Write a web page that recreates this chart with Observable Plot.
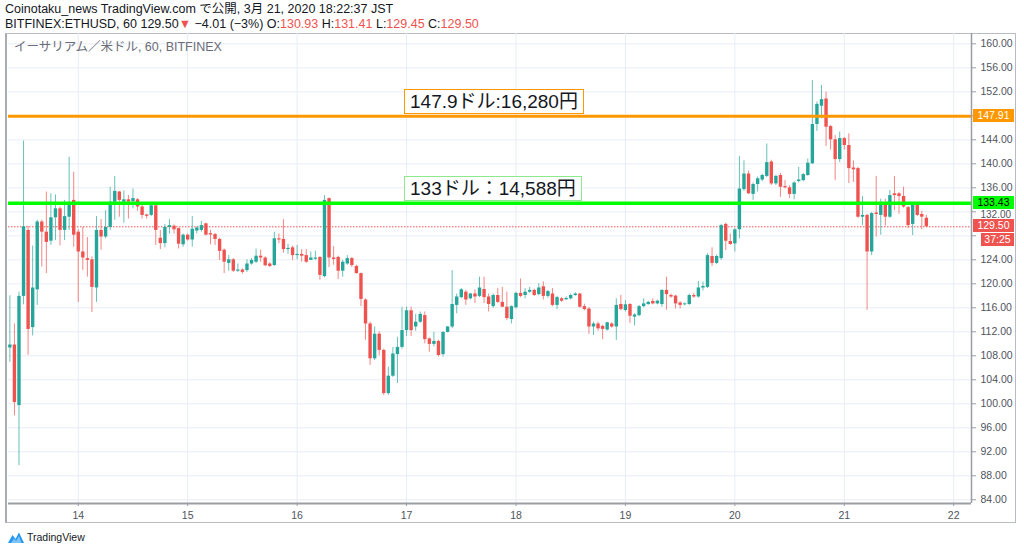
<!DOCTYPE html>
<html><head><meta charset="utf-8">
<script src="https://cdn.jsdelivr.net/npm/d3@7"></script>
<script src="https://cdn.jsdelivr.net/npm/@observablehq/plot@0.6"></script>
<style>
body{margin:0;background:#fff;width:1024px;height:552px;overflow:hidden;position:relative;font-family:"Liberation Sans","Noto Sans CJK JP",sans-serif;color:#131722}
.abs{position:absolute;white-space:nowrap}
#h1{left:5px;top:3px;font-size:12.5px;line-height:13px;height:13px}
#h2{left:5px;top:18px;font-size:12.5px;line-height:13px;height:13px}
.r{color:#ef5350}
#legend{left:14px;top:40px;font-size:12.5px;line-height:14px;color:#6a6d78}
#frame{position:absolute;left:5px;top:33px;width:1011px;height:490px;border:1px solid #b8bbc2;border-left:2px solid #a9acb3;box-sizing:border-box}
#chart{position:absolute;left:5px;top:33px}
.badge{position:absolute;height:13px;line-height:13px;font-size:10.5px;text-align:center;font-family:"Liberation Sans",sans-serif}
.note{position:absolute;height:25px;line-height:24px;font-size:19px;padding:0 5px;background:#fff;box-sizing:border-box;font-family:"Liberation Sans","Noto Sans CJK JP",sans-serif;color:#131722}
#tv{left:8px;top:531px;font-size:10.5px;color:#131722;display:flex;align-items:center;gap:3px}
</style></head>
<body>
<div class="abs" id="h1">Coinotaku_news TradingView.com で公開, 3月 21, 2020 18:22:37 JST</div>
<div class="abs" id="h2">BITFINEX:ETHUSD, 60 129.50<span class="r">▼</span> −4.01 (−3%) O:<span class="r">130.93</span> H:<span class="r">131.41</span> L:<span class="r">129.45</span> C:<span class="r">129.50</span></div>
<div id="frame"></div>
<div id="chart"></div>
<div class="abs" id="legend">イーサリアム／米ドル, 60, BITFINEX</div>
<div class="abs" id="tv"><svg width="16" height="11" viewBox="0 0 16 11"><path d="M0 11 L4.5 3 L7.5 7 L11 0.5 L16 11 Z" fill="#2196f3"/><path d="M3 11 L6 6.5 L8 9 L11 4 L13.5 11 Z" fill="#7ec2f7"/></svg><span>TradingView</span></div>
<script>
// Hourly candles (index 0 = first hour shown; day "14" starts at hour 15)
const opens = [
109.3,109.8,99.7,117.9,128.9,112.7,119.0,130.3,128.6,127.1,
131.0,132.5,128.9,131.1,133.9,128.6,125.3,124.2,124.0,119.3,
128.9,127.8,129.4,133.6,135.3,133.6,134.0,133.7,134.0,132.8,
131.4,131.4,133.0,127.6,126.7,129.4,129.6,129.2,126.5,128.1,
127.3,128.8,128.9,130.0,128.3,128.2,127.4,125.6,123.4,124.0,
122.1,122.3,122.2,123.3,123.6,124.6,124.3,123.3,123.05,127.5,
127.4,125.7,126.0,124.7,124.9,124.7,123.9,124.1,124.4,121.2,
134.2,124.3,124.4,122.1,123.3,124.2,122.9,121.7,117.3,113.3,
107.5,111.6,108.9,101.7,104.6,108.2,109.4,112.2,115.5,112.8,
113.6,114.7,110.8,109.9,110.4,108.2,111.9,112.8,116.4,117.7,
118.6,117.5,118.3,117.9,119.05,117.8,116.2,118.05,116.9,116.1,
114.05,116.0,118.4,118.05,118.6,118.9,118.2,119.5,117.9,118.3,
116.4,117.5,117.4,117.5,118.05,118.3,116.2,115.8,112.8,113.3,
112.9,112.3,113.3,112.8,116.55,115.55,116.55,114.45,114.7,116.2,
116.55,117.05,116.65,116.55,118.9,118.05,117.95,116.8,116.5,116.55,
118.05,117.8,119.3,119.4,124.55,123.4,124.2,129.9,127.05,126.65,
129.0,135.7,138.3,134.9,136.55,137.3,137.9,140.3,136.65,138.05,
136.2,136.0,134.9,137.05,137.2,138.05,140.0,146.55,149.6,150.8,
146.2,144.0,140.7,144.2,143.05,139.3,139.2,131.1,131.4,125.3,
131.8,131.4,133.45,131.1,135.0,135.0,134.55,132.7,129.9,133.3,
131.55,130.93];
const highs = [
118.0,113.3,118.6,143.8,129.6,126.3,130.6,130.6,135.3,135.0,
134.8,132.8,133.9,141.1,138.6,129.0,129.4,127.7,124.5,131.2,
130.7,132.2,136.1,137.9,135.4,135.5,134.7,135.8,134.2,133.1,
131.6,133.3,133.3,128.9,129.9,130.7,129.8,129.3,128.3,128.3,
131.2,129.5,130.4,130.1,128.9,128.4,127.6,125.8,124.7,124.2,
123.3,122.5,124.0,124.2,125.8,125.6,124.5,123.5,128.6,128.3,
130.7,126.6,126.3,126.4,125.7,125.7,125.3,125.4,124.5,134.7,
134.3,126.2,124.6,123.9,124.7,124.4,123.1,121.8,117.5,113.6,
112.8,112.0,109.1,106.1,109.4,111.1,116.1,116.1,116.1,114.9,
115.3,115.3,111.0,111.9,110.6,112.0,112.9,122.2,118.3,119.2,
118.9,118.4,119.0,121.1,121.1,118.3,118.3,119.2,119.4,118.6,
116.3,118.6,120.8,119.2,119.4,119.1,120.0,120.3,118.9,119.2,
117.9,117.7,117.8,118.3,118.5,118.4,116.6,116.0,113.6,113.6,
113.1,113.6,113.5,117.5,118.05,117.2,116.7,115.0,116.4,117.5,
117.1,117.5,117.3,119.0,121.1,118.3,118.1,117.0,116.8,118.3,
118.4,120.4,120.3,125.0,126.0,124.8,129.9,130.1,128.3,129.2,
141.2,140.5,138.8,136.8,137.8,138.3,143.3,140.6,138.1,138.4,
137.2,136.3,137.0,139.4,138.4,140.8,153.9,150.3,153.05,151.95,
146.4,144.7,145.3,144.4,145.0,140.5,139.4,134.55,131.6,131.9,
137.9,134.1,134.1,135.55,137.9,135.2,136.1,132.9,133.5,133.6,
132.1,131.41];
const lows = [
106.9,98.0,89.7,116.5,108.1,111.3,116.4,122.8,121.7,126.4,
127.2,126.3,127.2,128.9,126.1,116.9,122.2,121.1,115.2,116.9,
125.6,127.5,128.9,130.6,131.1,130.1,130.8,132.5,132.1,130.8,
130.8,131.2,126.4,125.7,126.0,128.3,128.3,125.8,126.1,127.1,
126.1,128.3,128.6,128.0,126.5,126.4,123.9,121.7,122.1,121.9,
121.9,121.6,121.9,123.1,123.4,123.6,122.9,122.7,122.9,126.7,
125.1,124.9,123.9,124.0,123.6,123.4,123.9,123.9,120.6,121.0,
122.7,123.1,120.7,121.1,123.1,122.7,121.6,116.2,110.6,106.4,
107.2,108.0,101.4,101.4,104.4,103.4,109.1,111.2,111.2,112.1,
113.4,110.0,108.6,109.5,107.8,107.8,111.8,112.5,115.0,117.5,
116.4,117.3,116.7,117.7,116.7,115.3,115.9,116.7,116.0,113.9,
113.3,115.8,117.7,117.5,118.4,117.9,118.0,117.3,117.6,116.2,
115.7,116.9,117.2,117.3,117.9,115.9,115.5,111.6,111.4,112.1,
110.7,112.1,112.6,110.55,115.5,115.3,113.4,113.0,114.5,116.0,
116.4,116.5,116.5,116.1,115.6,117.6,115.8,115.8,116.3,116.4,
117.6,117.6,118.8,119.2,122.9,123.2,123.9,125.55,126.4,125.3,
127.5,135.4,134.9,133.9,135.3,137.0,137.7,136.4,136.4,134.4,
135.8,134.2,134.0,136.8,137.0,137.9,139.9,145.4,147.5,142.9,
142.3,137.2,140.2,142.3,136.7,136.9,130.9,129.7,115.6,124.7,
127.8,128.1,129.6,130.9,132.2,131.6,132.6,129.2,128.05,131.2,
129.0,129.45];
const closes = [
109.8,100.2,117.9,129.5,112.4,119.3,130.3,128.6,126.9,131.0,
132.5,128.9,131.2,133.3,128.1,125.3,124.3,123.9,119.4,128.9,
127.8,129.4,133.6,135.4,133.9,134.0,133.6,134.2,132.8,131.4,
131.3,133.0,128.9,126.7,129.4,129.7,129.0,126.6,128.1,127.3,
129.1,129.3,129.7,128.1,128.2,127.4,125.4,123.6,124.0,122.1,
122.3,121.9,123.3,123.9,124.6,124.3,123.0,122.9,127.5,127.3,
125.7,125.9,124.7,124.9,124.6,123.6,124.3,124.3,121.4,133.9,
124.3,124.05,122.1,123.6,124.2,123.05,121.7,117.4,113.3,107.5,
111.6,108.9,101.7,104.6,108.3,109.4,112.2,115.5,112.2,113.6,
114.9,110.7,109.9,110.4,108.05,111.9,112.8,116.55,117.8,119.0,
117.3,118.3,117.8,119.3,117.7,116.55,118.05,116.9,116.1,114.2,
116.2,118.4,117.9,118.6,118.9,118.05,119.3,117.9,118.7,116.4,
117.7,117.1,117.5,118.05,118.3,116.1,115.7,112.8,113.3,112.5,
112.4,113.5,112.8,116.4,115.7,116.5,114.6,114.8,116.2,116.65,
116.9,116.65,117.1,118.9,118.2,117.8,116.65,116.4,116.65,118.05,
117.8,119.3,119.55,124.7,123.4,124.55,129.7,127.1,126.55,129.0,
135.8,138.3,135.0,136.55,137.5,138.05,140.2,136.65,137.9,136.1,
136.0,134.9,136.8,137.3,138.2,140.1,146.55,149.9,150.7,146.1,
144.0,140.7,144.2,143.05,139.2,139.0,131.1,131.4,125.3,131.7,
131.55,133.45,131.1,134.7,134.7,134.55,132.8,129.7,133.3,131.4,
131.1,129.5];

const dayLabels = ["14","15","16","17","18","19","20","21","22"];
const dayTickHours = [15,39,63,87,111,135,159,183,207];
const priceTicks = d3.range(84, 161, 4);
const resistance = 147.91, support = 133.43, lastClose = 129.50;
const countdown = "37:25";
const notes = [
  {text:"147.9ドル:16,280円", price:resistance, border:"#ff9800"},
  {text:"133ドル：14,588円", price:support, border:"#8bea8b"}
];
const noteHour = 86.55;
const xDomain = [-0.3, 210.9], yDomain = [83.38, 161.72];

const UP = "#26a69a", DOWN = "#ef5350";
const candles = opens.map((o, i) => ({t:i, o, h:highs[i], l:lows[i], c:closes[i], up: closes[i] >= opens[i]}));
const minBody = 0.12;
const bodyLo = d => Math.min(d.o, d.c) - (Math.abs(d.o - d.c) < minBody ? minBody/2 : 0);
const bodyHi = d => Math.max(d.o, d.c) + (Math.abs(d.o - d.c) < minBody ? minBody/2 : 0);

// price-axis labels that sit under a price badge are hidden, as in the reference;
// a label just below a badge is nudged down a little so it stays readable
const badgeYs = [resistance, support, lastClose, lastClose - 2.5];
const labelTicks = priceTicks.filter(t => badgeYs.every(b => Math.abs(b - t) * 6 >= 8));
const nearTicks = labelTicks.filter(t => badgeYs.some(b => Math.abs(b - t) * 6 < 12));
const freeTicks = labelTicks.filter(t => !nearTicks.includes(t));

const plot = Plot.plot({
  width: 1011, height: 490,
  marginLeft: 3, marginRight: 45, marginTop: 0, marginBottom: 20,
  style: {fontFamily: "Liberation Sans, sans-serif", fontSize: "10.5px", color: "#50535e", background: "transparent", overflow: "visible"},
  x: {domain: xDomain, axis: null},
  y: {domain: yDomain, axis: null},
  marks: [
    Plot.gridX(dayTickHours, {stroke: "#e8edf4", strokeOpacity: 1}),
    Plot.gridY(priceTicks, {stroke: "#e8edf4", strokeOpacity: 1}),
    Plot.ruleY([lastClose], {stroke: DOWN, strokeWidth: 1, strokeDasharray: "1.5,1.5"}),
    Plot.ruleX(candles, {x: "t", y1: "l", y2: "h", stroke: d => d.up ? UP : DOWN, strokeOpacity: 0.7, strokeWidth: 1}),
    Plot.ruleX(candles, {x: "t", y1: bodyLo, y2: bodyHi, stroke: d => d.up ? UP : DOWN, strokeWidth: 3.4}),
    Plot.ruleY([resistance], {stroke: "#ff9800", strokeWidth: 3}),
    Plot.ruleY([support], {stroke: "#00ff00", strokeWidth: 3.5}),
    Plot.ruleX([xDomain[1]], {stroke: "#9a9da6", strokeWidth: 1.5}),
    Plot.ruleY([yDomain[0]], {stroke: "#9a9da6", strokeWidth: 2}),
    Plot.axisX(dayTickHours, {tickFormat: d => dayLabels[dayTickHours.indexOf(d)], tickSize: 3, tickPadding: 5, stroke: "#9a9da6", label: null, fontSize: 10.5}),
    Plot.axisY(priceTicks, {anchor: "right", tickSize: 4, text: null, stroke: "#9a9da6", label: null}),
    Plot.axisY(freeTicks, {anchor: "right", tickFormat: d => d.toFixed(2), tickSize: 0, tickPadding: 9, label: null, fontSize: 10.5}),
    Plot.axisY(nearTicks, {anchor: "right", tickFormat: d => d.toFixed(2), tickSize: 0, tickPadding: 9, label: null, fontSize: 10, dy: 3})
  ]
});
document.getElementById("chart").appendChild(plot);

const xs = plot.scale("x"), ys = plot.scale("y");
const OX = 5, OY = 33;
function badge(val, text, bg, fg, left, width, dy) {
  const d = document.createElement("div");
  d.className = "badge";
  d.textContent = text;
  d.style.left = left + "px";
  d.style.width = width + "px";
  d.style.top = (OY + ys.apply(val) - 7 + (dy || 0)) + "px";
  d.style.background = bg; d.style.color = fg;
  document.body.appendChild(d);
}
badge(resistance, resistance.toFixed(2), "#ff9800", "#fff", 973, 41);
badge(support, support.toFixed(2), "#00ff00", "#000", 973, 41);
badge(lastClose, lastClose.toFixed(2), DOWN, "#fff", 973, 41);
badge(lastClose, countdown, DOWN, "#fff", 981, 33, 14);

for (const n of notes) {
  const d = document.createElement("div");
  d.className = "note";
  d.textContent = n.text;
  d.style.border = "1.5px solid " + n.border;
  d.style.left = (OX + xs.apply(noteHour)) + "px";
  d.style.top = (OY + ys.apply(n.price) - 1.5 - 25) + "px";
  document.body.appendChild(d);
}
</script>
</body></html>
